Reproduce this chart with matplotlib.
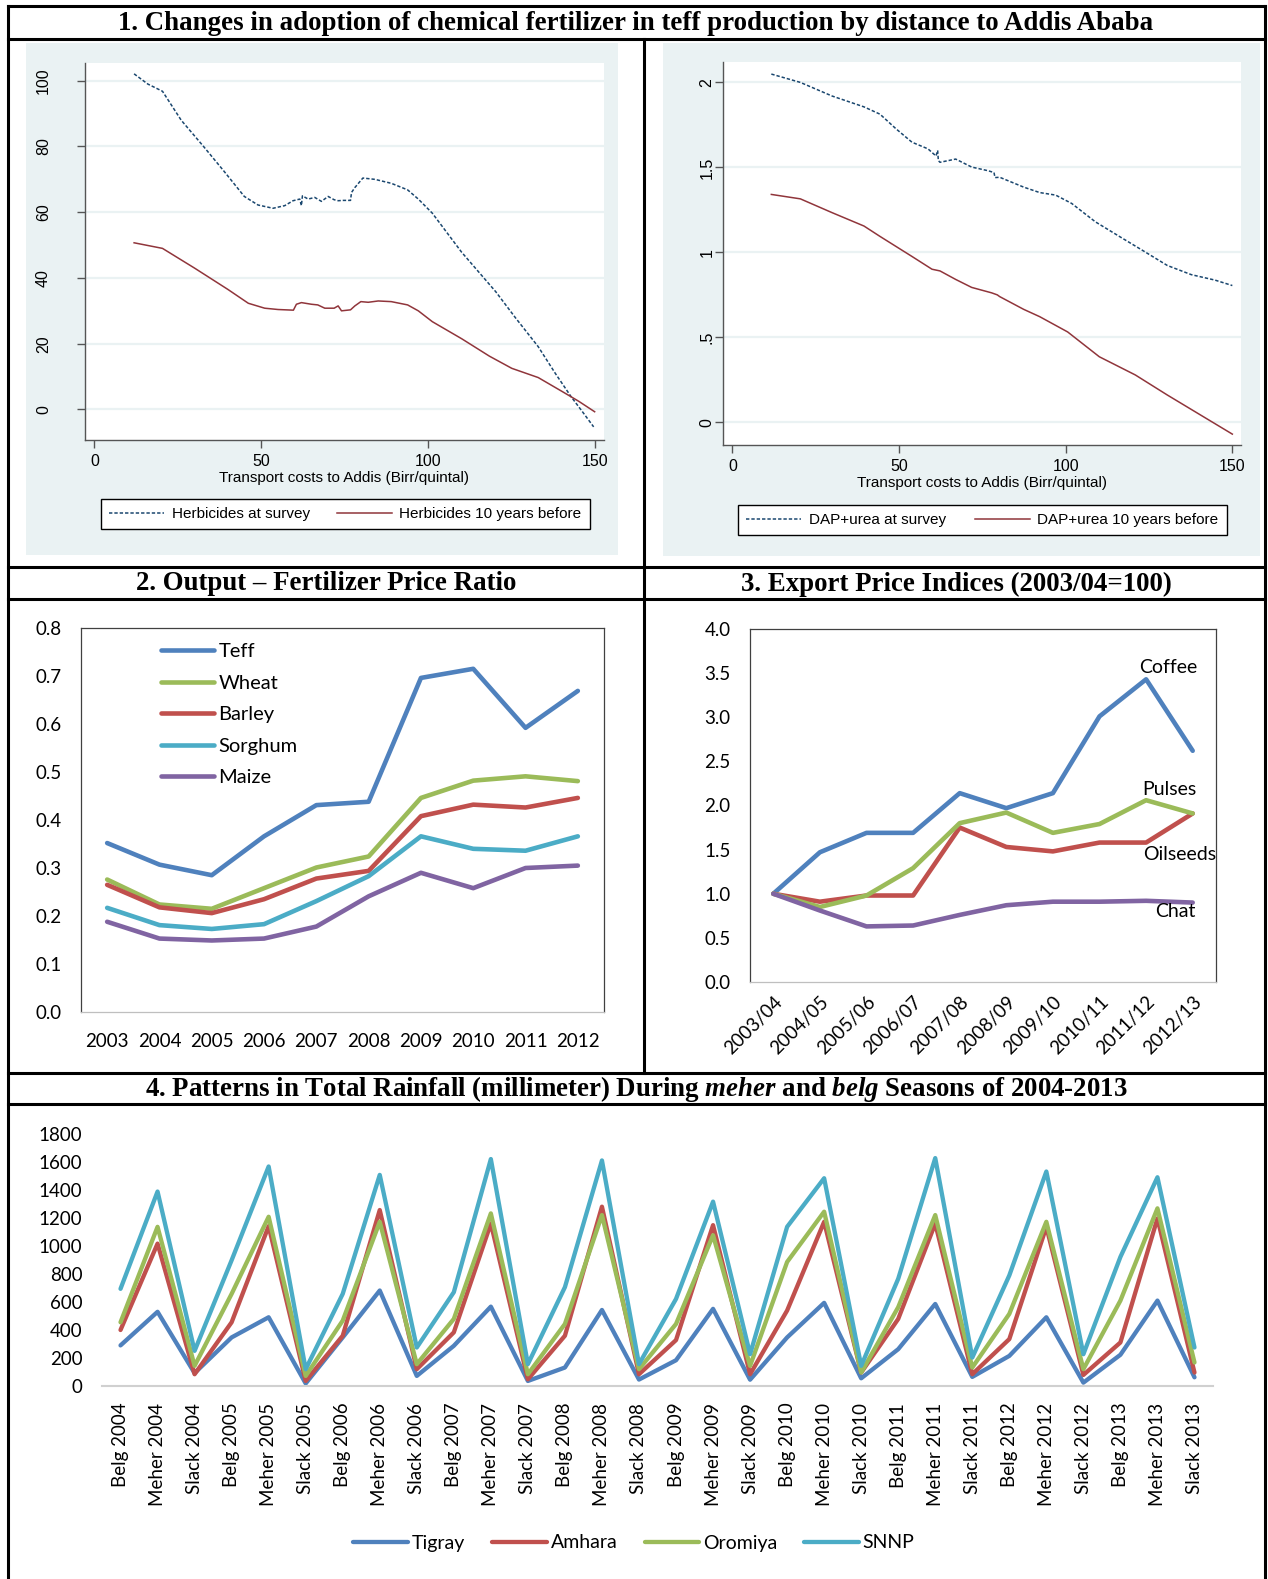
import numpy as np
import matplotlib.pyplot as plt
from matplotlib.lines import Line2D
from matplotlib.patches import Rectangle

plt.rcParams['mathtext.fontset'] = 'custom'
plt.rcParams['mathtext.rm'] = 'Liberation Serif:bold'
plt.rcParams['mathtext.it'] = 'Liberation Serif:italic:bold'

# ---------------- data ----------------
# panel 1 (Stata smoothers), transport cost in Birr/quintal
herb_now_x = [11.9, 16, 20.4, 26, 32.7, 38.8, 44.9, 49, 53.5, 57, 59.5, 61.5, 62, 62.3, 64, 66, 68, 70,
              71.8, 73, 74.5, 76.7, 77, 78, 80.4, 84, 88.9, 93.8, 97, 101.2, 110, 120.2, 126, 132.9,
              138, 142.8, 146, 149.5]
herb_now_y = [102.1, 99, 96.8, 88, 80, 72.5, 64.8, 62.2, 61.2, 62, 63.5, 64, 62, 65, 64, 64.5, 63.3, 64.8,
              63.8, 63.5, 63.6, 63.6, 66, 67.5, 70.4, 70, 68.8, 66.8, 64, 59.7, 47.8, 35.8, 28, 19.1,
              11, 3.8, -0.5, -5.3]
herb_old_x = [11.9, 20.4, 30, 40, 46.1, 51, 55, 59.6, 60.5, 62, 65, 66.9, 69, 71.8, 73, 74, 76.7, 78,
              79.8, 82, 85, 88.9, 93.8, 97, 101.2, 110, 118.3, 125, 132.9, 140, 145, 149.8]
herb_old_y = [50.7, 49.0, 43, 36.5, 32.3, 30.8, 30.4, 30.2, 32, 32.5, 32, 31.8, 30.8, 30.8, 31.5, 30, 30.3,
              31.5, 32.8, 32.6, 33, 32.8, 31.8, 30, 26.7, 21.5, 16.2, 12.5, 9.7, 5.5, 2.5, -0.7]
dap_now_x = [11.7, 20.4, 29.9, 39.5, 44.3, 49.1, 53.9, 58.7, 61.1, 61.6, 61.8, 62.3, 67.0, 71.8, 76.6,
             78.5, 78.8, 80.2, 87.4, 92.2, 97.0, 101.8, 108.9, 116.1, 123.3, 130.5, 137.7, 144.8, 150]
dap_now_y = [2.049, 2.0, 1.92, 1.856, 1.813, 1.727, 1.648, 1.609, 1.567, 1.6, 1.54, 1.53, 1.549, 1.502,
             1.481, 1.47, 1.44, 1.442, 1.384, 1.352, 1.337, 1.288, 1.18, 1.094, 1.009, 0.923, 0.869,
             0.837, 0.805]
dap_old_x = [11.7, 20.4, 29.9, 39.5, 44.3, 53.9, 59.9, 62.3, 67.0, 71.8, 77.8, 79.5, 80.2, 87.4, 92.2,
             100.6, 110.1, 120.9, 130.5, 150]
dap_old_y = [1.341, 1.315, 1.234, 1.155, 1.094, 0.976, 0.901, 0.891, 0.841, 0.794, 0.762, 0.75, 0.740,
             0.665, 0.622, 0.532, 0.386, 0.279, 0.161, -0.069]

# panel 2: output-fertilizer price ratio
years2 = ['2003', '2004', '2005', '2006', '2007', '2008', '2009', '2010', '2011', '2012']
teff = [0.352, 0.307, 0.285, 0.366, 0.431, 0.438, 0.696, 0.715, 0.592, 0.669]
wheat = [0.276, 0.224, 0.215, 0.258, 0.301, 0.324, 0.446, 0.482, 0.491, 0.481]
barley = [0.265, 0.218, 0.206, 0.235, 0.278, 0.294, 0.408, 0.432, 0.426, 0.446]
sorghum = [0.217, 0.181, 0.173, 0.183, 0.231, 0.283, 0.366, 0.340, 0.336, 0.366]
maize = [0.188, 0.153, 0.149, 0.153, 0.178, 0.241, 0.290, 0.258, 0.300, 0.305]

# panel 3: export price indices
years3 = ['2003/04', '2004/05', '2005/06', '2006/07', '2007/08', '2008/09', '2009/10', '2010/11',
          '2011/12', '2012/13']
coffee = [1.0, 1.47, 1.69, 1.69, 2.14, 1.97, 2.14, 3.01, 3.43, 2.62]
oilseeds = [1.0, 0.91, 0.98, 0.98, 1.75, 1.53, 1.48, 1.58, 1.58, 1.91]
pulses = [1.0, 0.85, 0.98, 1.29, 1.80, 1.92, 1.69, 1.79, 2.06, 1.91]
chat = [1.0, 0.81, 0.63, 0.64, 0.76, 0.87, 0.91, 0.91, 0.92, 0.90]

# panel 4: rainfall (mm)
seasons = ['Belg', 'Meher', 'Slack']
years4 = list(range(2004, 2014))
tigray = [290, 530, 92, 347, 491, 18, 347, 682, 72, 287, 567, 36, 132, 543, 46, 184, 551, 45, 347, 594,
          55, 263, 586, 65, 215, 491, 24, 223, 610, 62]
amhara = [400, 1017, 84, 455, 1142, 36, 359, 1257, 120, 383, 1161, 48, 359, 1281, 84, 328, 1149, 84,
          539, 1173, 96, 479, 1161, 84, 335, 1137, 79, 311, 1197, 96]
oromiya = [455, 1137, 144, 658, 1209, 72, 467, 1173, 156, 479, 1233, 84, 443, 1221, 120, 443, 1077, 144,
           886, 1245, 96, 563, 1221, 132, 515, 1173, 120, 610, 1269, 168]
snnp = [694, 1389, 251, 898, 1568, 120, 658, 1508, 275, 670, 1621, 156, 706, 1611, 156, 622, 1317, 227,
        1137, 1484, 144, 766, 1628, 203, 790, 1532, 227, 922, 1491, 275]

# ---------------- layout helpers ----------------
W, H = 1268, 1579
fig = plt.figure(figsize=(W / 100, H / 100), dpi=100)

def rect(x0, y0, x1, y1):
    return [x0 / W, 1 - y1 / H, (x1 - x0) / W, (y1 - y0) / H]

def rule(xs, ys):
    fig.add_artist(Line2D([x / W for x in xs], [1 - y / H for y in ys], color='black', lw=2.2))

STATA = ['Liberation Sans Narrow', 'Liberation Sans']
EXCEL = ['Lato', 'DejaVu Sans']
SERIF = 'Liberation Serif'
blue, red, green, purple, cyan = '#4f81bd', '#c0504d', '#9bbb59', '#8064a2', '#4bacc6'

# caption of the page, cut off by the top edge (only descenders show)
fig.text(0.45, 1 + 6 / H, 'Figure 3: Changes in agricultural input use and output/input prices, 2003-2013)',
         ha='center', va='baseline', family=SERIF, weight='bold', size=19)

# table frame
rule([8, 1265], [6, 6])
rule([8, 1265], [39, 39])
rule([8, 1265], [567, 567])
rule([8, 1265], [599, 599])
rule([8, 1265], [1073, 1073])
rule([8, 1265], [1104, 1104])
rule([8, 8], [6, 1579])
rule([1265, 1265], [6, 1579])
rule([644, 644], [39, 1073])

def title(x, y, s):
    fig.text(x / W, 1 - y / H, s, ha='center', va='center', family=SERIF, weight='bold', size=19.4)

title(636, 23, '1. Changes in adoption of chemical fertilizer in teff production by distance to Addis Ababa')
title(326, 584, '2. Output – Fertilizer Price Ratio')
title(956, 584, '3. Export Price Indices (2003/04=100)')
title(636, 1089, r'4. Patterns in Total Rainfall (millimeter) During $\mathit{meher}$ and $\mathit{belg}$ Seasons of 2004-2013')

# ---------------- panel 1: Stata graphs ----------------
def stata_panel(bg, box, x1, y1, x2, y2, ylim, yt, ytl, ypad, labels, legbox, xlab_y):
    fig.add_artist(Rectangle((bg[0] / W, 1 - bg[3] / H), (bg[2] - bg[0]) / W, (bg[3] - bg[1]) / H,
                             transform=fig.transFigure, facecolor='#eaf2f3', edgecolor='none', zorder=0))
    ax = fig.add_axes(rect(*box))
    ax.plot(x1, y1, color='#1a476f', lw=1.1, ls=(0, (2.2, 1.3)), label=labels[0])
    ax.plot(x2, y2, color='#90353b', lw=1.1, label=labels[1])
    ax.set_xlim(-2.8, 152.6)
    ax.set_ylim(*ylim)
    ax.set_xticks([0, 50, 100, 150])
    ax.set_yticks(yt)
    ax.set_yticklabels(ytl, rotation=90, va='center', family=STATA)
    ax.set_xticklabels(['0', '50', '100', '150'], family=STATA)
    for s in ['top', 'right']:
        ax.spines[s].set_visible(False)
    for s in ['left', 'bottom']:
        ax.spines[s].set_color('#555555')
        ax.spines[s].set_linewidth(1)
    ax.tick_params(color='#555555', labelcolor='black', length=6, width=1, labelsize=11.5)
    ax.tick_params(axis='y', pad=ypad)
    ax.tick_params(axis='x', pad=4)
    ax.grid(axis='y', color='#eaf2f3', lw=1.6)
    ax.set_axisbelow(True)
    fig.text((box[0] + box[2]) / 2 / W, 1 - xlab_y / H, 'Transport costs to Addis (Birr/quintal)',
             ha='center', va='center', family=STATA, size=11)
    ax.legend(loc='center', bbox_to_anchor=rect(*legbox), bbox_transform=fig.transFigure,
              mode='expand', ncol=2, prop={'family': STATA, 'size': 11}, fancybox=False,
              edgecolor='black', framealpha=1, borderpad=0.55, handlelength=3.6, handletextpad=0.5,
              borderaxespad=0)
    ax.get_legend().get_frame().set_linewidth(1)
    return ax

stata_panel((26, 43, 618, 555), (85, 63, 604, 440), herb_now_x, herb_now_y, herb_old_x, herb_old_y,
            (-9.3, 105.4), [0, 20, 40, 60, 80, 100], ['0', '20', '40', '60', '80', '100'], 18.5,
            ['Herbicides at survey', 'Herbicides 10 years before'], (101, 497, 590, 531), 478)
stata_panel((663, 43, 1260, 556), (723, 62, 1241, 445), dap_now_x, dap_now_y, dap_old_x, dap_old_y,
            (-0.133, 2.12), [0, 0.5, 1, 1.5, 2], ['0', '.5', '1', '1.5', '2'], 0,
            ['DAP+urea at survey', 'DAP+urea 10 years before'], (738, 503, 1227, 537), 483)

# ---------------- panel 2: price ratio ----------------
ax2 = fig.add_axes(rect(81, 628, 604, 1012))
for name, vals, col in [('Teff', teff, blue), ('Wheat', wheat, green), ('Barley', barley, red),
                        ('Sorghum', sorghum, cyan), ('Maize', maize, purple)]:
    ax2.plot(range(len(years2)), vals, color=col, lw=3.3, label=name, solid_joinstyle='round',
             solid_capstyle='round')
ax2.set_xlim(-0.5, 9.5)
ax2.set_ylim(0, 0.8)
ax2.set_xticks(range(len(years2)))
ax2.set_xticklabels(years2, family=EXCEL)
ax2.set_yticks(np.arange(0, 0.81, 0.1))
ax2.set_yticklabels(['%.1f' % v for v in np.arange(0, 0.81, 0.1)], family=EXCEL)
ax2.tick_params(length=0, labelsize=13.5)
ax2.tick_params(axis='y', pad=14)
ax2.tick_params(axis='x', pad=15)
for s in ax2.spines.values():
    s.set_color('#404040')
    s.set_linewidth(0.9)
ax2.spines['bottom'].set_color('#bfbfbf')
ax2.legend(loc='upper left', bbox_to_anchor=(161 / W, 1 - 643 / H), bbox_transform=fig.transFigure,
           frameon=False, prop={'family': EXCEL, 'size': 14.5}, handlelength=2.65, handletextpad=0.2,
           labelspacing=0.72, borderpad=0, borderaxespad=0)

# ---------------- panel 3: export price indices ----------------
ax3 = fig.add_axes(rect(750, 629, 1216, 982))
for vals, col in [(coffee, blue), (oilseeds, red), (pulses, green), (chat, purple)]:
    ax3.plot(range(len(years3)), vals, color=col, lw=3.3, solid_joinstyle='round', solid_capstyle='round')
ax3.set_xlim(-0.5, 9.5)
ax3.set_ylim(0, 4)
ax3.set_xticks(range(len(years3)))
ax3.set_xticklabels(years3, rotation=45, ha='right', va='top', rotation_mode='anchor', family=EXCEL)
ax3.set_yticks(np.arange(0, 4.01, 0.5))
ax3.set_yticklabels(['%.1f' % v for v in np.arange(0, 4.01, 0.5)], family=EXCEL)
ax3.tick_params(length=0, labelsize=13.5)
ax3.tick_params(axis='y', pad=14)
ax3.tick_params(axis='x', pad=8)
for s in ax3.spines.values():
    s.set_color('#404040')
    s.set_linewidth(0.9)
ax3.spines['bottom'].set_color('#bfbfbf')
for txt, x, y in [('Coffee', 8.48, 3.56), ('Pulses', 8.5, 2.18), ('Oilseeds', 8.73, 1.44), ('Chat', 8.63, 0.80)]:
    ax3.text(x, y, txt, ha='center', va='center', family=EXCEL, size=14)

# ---------------- panel 4: rainfall ----------------
cats = ['%s %d' % (s, y) for y in years4 for s in seasons]
ax4 = fig.add_axes(rect(102, 1134, 1213, 1386))
for name, vals, col in [('Tigray', tigray, blue), ('Amhara', amhara, red), ('Oromiya', oromiya, green),
                        ('SNNP', snnp, cyan)]:
    ax4.plot(range(len(cats)), vals, color=col, lw=3.1, label=name, solid_joinstyle='round',
             solid_capstyle='round')
ax4.set_xlim(-0.5, len(cats) - 0.5)
ax4.set_ylim(0, 1800)
ax4.set_xticks(range(len(cats)))
ax4.set_xticklabels(cats, rotation=90, family=EXCEL)
ax4.set_yticks(range(0, 1801, 200))
ax4.set_yticklabels([str(v) for v in range(0, 1801, 200)], family=EXCEL)
ax4.tick_params(length=0, labelsize=13.5)
ax4.tick_params(axis='y', pad=14)
ax4.tick_params(axis='x', pad=12)
for s in ['top', 'right', 'left']:
    ax4.spines[s].set_visible(False)
ax4.spines['bottom'].set_color('#d0d0d0')
ax4.spines['bottom'].set_linewidth(1.5)
ax4.patch.set_alpha(0)
for line in ax4.lines:
    line.set_clip_on(False)
ax4.legend(loc='center', bbox_to_anchor=(634 / W, 1 - 1543 / H), bbox_transform=fig.transFigure,
           ncol=4, frameon=False, prop={'family': EXCEL, 'size': 14}, handlelength=2.8,
           handletextpad=0.2, columnspacing=1.4, borderpad=0)

fig.savefig('out.png', dpi=100)
